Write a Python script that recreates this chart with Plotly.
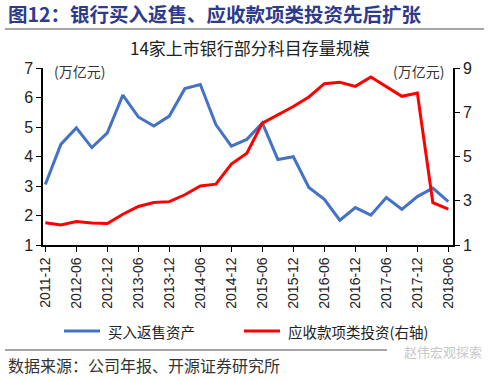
import plotly.graph_objects as go

quarters = ["2011-12", "2012-03", "2012-06", "2012-09", "2012-12", "2013-03", "2013-06",
            "2013-09", "2013-12", "2014-03", "2014-06", "2014-09", "2014-12", "2015-03",
            "2015-06", "2015-09", "2015-12", "2016-03", "2016-06", "2016-09", "2016-12",
            "2017-03", "2017-06", "2017-09", "2017-12", "2018-03", "2018-06"]
resale = [3.05, 4.41, 4.97, 4.30, 4.80, 6.08, 5.34, 5.03, 5.37, 6.30, 6.44, 5.08, 4.35,
          4.58, 5.14, 3.90, 3.99, 2.95, 2.55, 1.84, 2.27, 2.01, 2.61, 2.21, 2.64, 2.93, 2.47]
receivables = [2.01, 1.91, 2.06, 1.99, 1.97, 2.39, 2.74, 2.92, 2.96, 3.27, 3.67, 3.75, 4.66,
               5.15, 6.51, 6.89, 7.26, 7.69, 8.29, 8.35, 8.17, 8.59, 8.17, 7.72, 7.87, 2.91, 2.62]
tick_labels = quarters[::2]
names = ["买入返售资产", "应收款项类投资(右轴)"]

CJK = "Noto Sans CJK SC"
NUM = "Liberation Sans, Arial"
x = list(range(len(quarters)))

W, H = 500, 379
ML, MR, MT, MB = 43, 47, 68, 134
PW, PH = W - ML - MR, H - MT - MB

def px(xp, yp):
    return (xp - ML) / PW, (H - MB - yp) / PH

fig = go.Figure()
fig.add_trace(go.Scatter(x=x, y=resale, mode="lines", name=names[0],
                         line=dict(color="#4472C4", width=3), showlegend=False))
fig.add_trace(go.Scatter(x=x, y=receivables, mode="lines", name=names[1], yaxis="y2",
                         line=dict(color="#FF0000", width=3), showlegend=False))

fig.update_layout(
    width=W, height=H,
    margin=dict(l=ML, r=MR, t=MT, b=MB),
    paper_bgcolor="white", plot_bgcolor="white",
    xaxis=dict(range=[-0.15, 26.3], tickvals=x[::2], ticktext=tick_labels,
               tickangle=-90, showgrid=False, zeroline=False,
               showline=True, linecolor="black", linewidth=1.5,
               ticks="outside", ticklen=5, tickcolor="black",
               tickfont=dict(family=NUM, size=14, color="#222")),
    yaxis=dict(range=[1, 7], tick0=1, dtick=1, showgrid=False, zeroline=False,
               showline=True, linecolor="black", linewidth=1.5,
               ticks="outside", ticklen=5, tickcolor="black",
               tickfont=dict(family=NUM, size=16, color="#222")),
    yaxis2=dict(range=[1, 9], tick0=1, dtick=2, overlaying="y", side="right",
                showgrid=False, zeroline=False,
                showline=True, linecolor="black", linewidth=1.5,
                ticks="outside", ticklen=5, tickcolor="black",
                tickfont=dict(family=NUM, size=16, color="#222")),
)

ann = [
    dict(text="<b>图12：银行买入返售、应收款项类投资先后扩张</b>", x=6, y=13,
         font=dict(family=CJK, size=19.5, color="#2E3A8C"), xanchor="left"),
    dict(text="14家上市银行部分科目存量规模", x=250, y=47,
         font=dict(family=CJK, size=17, color="#222"), xanchor="center"),
    dict(text="(万亿元)", x=52, y=71, font=dict(family=CJK, size=14, color="#333"), xanchor="left"),
    dict(text="(万亿元)", x=446, y=71, font=dict(family=CJK, size=14, color="#333"), xanchor="right"),
    dict(text=names[0], x=106, y=331, font=dict(family=CJK, size=14.5, color="#222"), xanchor="left"),
    dict(text=names[1], x=286, y=331, font=dict(family=CJK, size=14.5, color="#222"), xanchor="left"),
    dict(text="数据来源：公司年报、开源证券研究所", x=6, y=365,
         font=dict(family=CJK, size=16, color="#333"), xanchor="left"),
    dict(text="赵伟宏观探索", x=484, y=351,
         font=dict(family=CJK, size=13, color="#C8C8C8"), xanchor="right"),
]
for a in ann:
    ax, ay = px(a["x"], a["y"])
    fig.add_annotation(text=a["text"], x=ax, y=ay,
                       xref="paper", yref="paper", xanchor=a["xanchor"], yanchor="middle",
                       showarrow=False, font=a["font"])

shapes = [
    ((5, 29), (484, 29), "#888", 1.5),
    ((5, 350), (387, 350), "#888", 1.5),
    ((64, 331), (100, 331), "#4472C4", 3),
    ((244, 331), (280, 331), "#FF0000", 3),
]
for (p0, p1, c, w) in shapes:
    x0, y0 = px(*p0)
    x1, y1 = px(*p1)
    fig.add_shape(type="line", xref="paper", yref="paper", x0=x0, y0=y0, x1=x1, y1=y1,
                  line=dict(color=c, width=w))

fig.write_html("out.html", config={"displayModeBar": False},
               post_script="document.body.style.margin='0';document.body.style.overflow='hidden';")
